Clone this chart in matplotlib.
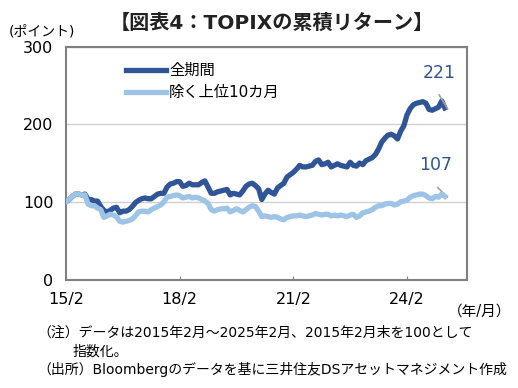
import matplotlib
matplotlib.use("Agg")
import matplotlib.pyplot as plt

plt.rcParams["font.family"] = ["DejaVu Sans", "Noto Sans CJK JP"]

# monthly index, 2015/2 = 0 ... 2025/2 = 120
total = [
    100, 103, 107, 110, 110, 109, 110, 103, 103, 101,
    101, 94, 89, 87, 89, 92, 93, 86, 88, 88,
    90, 94, 99, 102, 104, 105, 104, 104, 107, 110,
    111, 111, 119, 123, 124, 126, 126, 120, 121, 124,
    122, 122, 122, 125, 127, 119, 111, 111, 113, 114,
    115, 116, 109, 111, 110, 109, 114, 120, 123, 124,
    121, 117, 103, 110, 115, 112, 110, 118, 121, 124,
    132, 135, 138, 142, 147, 145, 145, 146, 147, 152,
    154, 148, 149, 151, 145, 147, 149, 147, 146, 145,
    151, 147, 146, 150, 148, 153, 155, 157, 161, 168,
    177, 182, 186, 187, 185, 181, 191, 198, 212, 220,
    225, 227, 228, 229, 227, 219, 218, 220, 222, 230,
    221,
]
ex_top10 = [
    100, 103, 107, 110, 110, 109, 109, 97, 95, 95,
    92, 90, 80, 82, 84, 83, 81, 75, 74, 75,
    76, 78, 82, 87, 88, 88, 87, 90, 92, 94,
    96, 100, 106, 107, 108, 109, 108, 105, 106, 107,
    105, 106, 105, 103, 101, 98, 90, 88, 90, 91,
    91, 92, 87, 89, 91, 89, 87, 90, 93, 95,
    94, 88, 81, 82, 81, 80, 81, 80, 78, 77,
    80, 81, 82, 82, 83, 82, 81, 82, 83, 85,
    84, 83, 84, 84, 82, 83, 82, 83, 82, 81,
    83, 84, 80, 82, 86, 87, 88, 90, 93, 95,
    95, 97, 98, 98, 96, 97, 100, 101, 102, 106,
    108, 109, 110, 110, 108, 105, 104, 107, 106, 110,
    107,
]
months = list(range(len(total)))

tick_pos = [0, 36, 72, 108]
tick_labels = ["15/2", "18/2", "21/2", "24/2"]

dark = "#2F5597"
light = "#9DC3E6"

fig = plt.figure(figsize=(5.18, 3.88), dpi=100)
ax = fig.add_axes([0.1274, 0.2796, 0.7741, 0.6004])

ax.plot(months, total, color=dark, lw=3.8, label="全期間", zorder=3,
        solid_joinstyle="round")
ax.plot(months, ex_top10, color=light, lw=3.8, label="除く上位10カ月", zorder=4,
        solid_joinstyle="round")

ax.set_xlim(0, 127)
ax.set_ylim(0, 300)
ax.set_yticks([0, 100, 200, 300])
ax.set_xticks(tick_pos)
ax.set_xticklabels(tick_labels)
ax.tick_params(axis="both", labelsize=11.5, colors="#808080", labelcolor="black")
ax.tick_params(axis="x", direction="in", length=3, pad=9)
ax.tick_params(axis="y", length=0, pad=9)
ax.grid(axis="y", color="#D0D0D0", lw=1)
ax.set_axisbelow(True)
for s in ax.spines.values():
    s.set_color("#808080")
    s.set_linewidth(1.5)

# end labels with small leader lines
for vals, off_txt, off_ln in [(total, (-4, 19), (-6, 10)), (ex_top10, (-7, 16), (-7, 7))]:
    ax.annotate(f"{vals[-1]:.0f}", xy=(months[-1], vals[-1]), xytext=off_txt,
                textcoords="offset points", ha="center", va="bottom",
                fontsize=12.5, color=dark)
    ax.annotate("", xy=(months[-1] + 0.8, vals[-1] - 1), xytext=off_ln,
                textcoords="offset points",
                arrowprops=dict(arrowstyle="-", color="#A0A0A0", lw=1.2,
                                shrinkA=0, shrinkB=0))

leg = ax.legend(loc="upper left", bbox_to_anchor=(0.135, 0.955), frameon=False,
                fontsize=11, handlelength=2.6, handletextpad=0.2,
                labelspacing=0.45, borderaxespad=0)

fig.text(0.525, 0.94, "【図表4：TOPIXの累積リターン】", ha="center", va="center",
         fontsize=14.5, fontweight="bold", color="#222222")
fig.text(0.081, 0.92, "(ポイント)", ha="center", va="center", fontsize=10)
fig.text(0.925, 0.198, "（年/月）", ha="center", va="center", fontsize=10.5)
fig.text(0.072, 0.142, "（注）データは2015年2月～2025年2月、2015年2月末を100として",
         ha="left", va="center", fontsize=10)
fig.text(0.14, 0.093, "指数化。", ha="left", va="center", fontsize=10)
fig.text(0.072, 0.048, "（出所）Bloombergのデータを基に三井住友DSアセットマネジメント作成",
         ha="left", va="center", fontsize=10)

fig.savefig("out.png", dpi=100)
